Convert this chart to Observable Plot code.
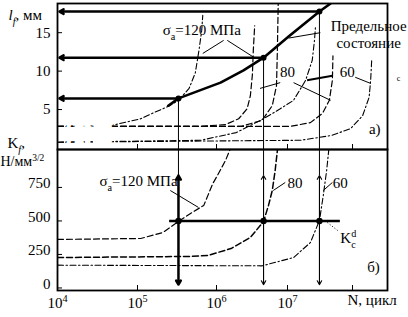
<!DOCTYPE html>
<html>
<head>
<meta charset="utf-8">
<script src="https://cdn.jsdelivr.net/npm/d3@7"></script>
<script src="https://cdn.jsdelivr.net/npm/@observablehq/plot@0.6"></script>
<style>
html,body{margin:0;padding:0;background:#fff;}
#chart{position:relative;width:408px;height:317px;overflow:hidden;background:#fff;}
#chart svg{position:absolute;left:0;overflow:visible;background:transparent;}
#chart svg, #chart svg text, #chart svg tspan{font-family:"Liberation Serif","Times New Roman",serif !important;}
</style>
</head>
<body>
<div id="chart"></div>
<script>
// ---------------- data ----------------
const xTicks = [1e4, 1e5, 1e6, 1e7, 1e8];
const xTickLabels = ["10^{4}", "10^{5}", "10^{6}", "10^{7}", ""];
const lTicks = [5, 10, 15];
const lTickLabels = ["5", "10", "15"];
const kTicks = [0, 250, 500, 750];
const kTickLabels = ["0", "250", "500", "750"];

const stress = ["120", "80", "60"];          // σa, МПа
const failN = [3.3e5, 4.6e6, 3.1e7];          // N at limit state
const failL = [6.45, 11.75, 17.75];           // l_f at limit state, мм
const Kcd = 500;                              // K_c^d
const KcdN = [2.55e5, 6.5e7];                 // extent of K_c^d line

// limit state line (top panel)
const limitN = [2.45e5, 3.3e5, 1.14e6, 2.4e6, 4.6e6, 1.04e7, 3.1e7, 4.6e7];
const limitL = [5.5, 6.45, 8.5, 10.1, 11.75, 14.5, 17.75, 18.8];

// crack growth curves l(N), top panel
const tA_N = [1e4, 4.6e4, 1.1e5, 1.74e5, 2.45e5, 3.3e5, 4.5e5, 5.4e5, 6.0e5, 6.5e5, 6.7e5];
const tA_L = [2.8, 2.9, 3.8, 4.75, 5.4, 6.2, 7.75, 9.8, 12.7, 15.3, 17.25];
const tB_N = [1e4, 6.3e5, 1.34e6, 2.05e6, 2.7e6, 3.0e6, 3.2e6, 3.3e6, 3.45e6];
const tB_L = [2.8, 2.8, 3.05, 3.8, 5.1, 6.8, 9.5, 12.7, 15.9];
const tC_N = [1e4, 6.3e5, 1.9e6, 4.6e6, 7.9e6, 1.24e7, 1.9e7, 2.4e7, 2.6e7, 2.7e7];
const tC_L = [0.75, 1.0, 2.0, 3.8, 5.1, 6.2, 8.8, 11.4, 14.0, 15.9];
const tD_N = [1e4, 2.2e6, 4.4e6, 6.1e6, 7.0e6, 7.2e6, 7.4e6];
const tD_L = [2.8, 2.8, 3.6, 5.5, 8.1, 12.7, 18.8];
const tE_N = [1e4, 1.1e7, 2.25e7, 3.45e7, 4.4e7, 4.9e7, 5.0e7];
const tE_L = [2.8, 2.8, 3.3, 4.5, 6.2, 8.8, 12.0];
const tF_N = [1e4, 1.58e7, 4.6e7, 9.3e7, 1.43e8, 1.8e8, 1.9e8, 1.97e8];
const tF_L = [0.75, 1.0, 1.6, 2.5, 4.2, 6.6, 8.8, 11.4];

// K_f(N) curves, bottom panel
const bA_N = [1e4, 1.1e5, 2.1e5, 3.3e5, 4.7e5, 6.9e5, 9e5, 1.03e6, 1.34e6, 1.75e6];
const bA_K = [362, 369, 414, 496, 556, 616, 780, 839, 951, 1100];
const bB_N = [1e4, 4.7e5, 7.7e5, 1.6e6, 3.0e6, 4.6e6, 5.4e6, 6.1e6, 6.7e6, 7.2e6, 7.4e6];
const bB_K = [227, 235, 242, 294, 377, 496, 616, 727, 876, 1025, 1100];
const bC_N = [1e4, 4.4e6, 1.24e7, 2.25e7, 3.1e7, 3.55e7, 4.0e7, 4.3e7, 4.5e7];
const bC_K = [170, 165, 227, 339, 503, 690, 876, 1025, 1100];

// ---------------- helpers ----------------
const pts = (N, v) => N.map((n, i) => ({N: n, v: v[i]}));
const fail = stress.map((s, i) => ({s, N: failN[i], l: failL[i]}));
const DASH = "6,3";
const DASHDOT = "6,2.5,1.5,2.5";
const FONT = "Liberation Serif";
const xScale = {type: "log", domain: [1e4, 1e5, 1e6, 1e7, 3.45e8], range: [57, 137, 216, 287, 387]};
const link = (x1, y1, x2, y2, o = {}) => Plot.link([0], {x1: () => x1, y1: () => y1, x2: () => x2, y2: () => y2, strokeWidth: 1, ...o});
const label = (x, y, t, o = {}) => Plot.text([0], {x: () => x, y: () => y, text: () => t, fontSize: 15, fontFamily: FONT, ...o});

// ---------------- top panel ----------------
const topPlot = Plot.plot({
  width: 408, height: 150,
  marginTop: 3, marginBottom: 1, marginLeft: 57, marginRight: 21,
  style: {fontSize: "15px", overflow: "visible", background: "transparent", color: "black"},
  x: xScale,
  y: {domain: [-0.2, 18.8], range: [149, 3]},
  marks: [
    Plot.axisY(lTicks, {tickSize: -5, tickFormat: () => "", label: null}),
    Plot.text(lTicks, {y: d => d, text: (d, i) => lTickLabels[i], frameAnchor: "left", dx: -7, textAnchor: "end", fontSize: 15, fontFamily: FONT}),
    Plot.axisX(xTicks, {tickSize: -5, tickFormat: () => "", label: null}),
    Plot.line(pts(tA_N, tA_L), {x: "N", y: "v", strokeWidth: 1.1, strokeDasharray: DASHDOT, clip: true}),
    Plot.line(pts(tB_N, tB_L), {x: "N", y: "v", strokeWidth: 1.2, strokeDasharray: DASH, clip: true}),
    Plot.line(pts(tC_N, tC_L), {x: "N", y: "v", strokeWidth: 1.1, strokeDasharray: DASHDOT, clip: true}),
    Plot.line(pts(tD_N, tD_L), {x: "N", y: "v", strokeWidth: 1.2, strokeDasharray: DASH, clip: true}),
    Plot.line(pts(tE_N, tE_L), {x: "N", y: "v", strokeWidth: 1.2, strokeDasharray: DASH, clip: true}),
    Plot.line(pts(tF_N, tF_L), {x: "N", y: "v", strokeWidth: 1.1, strokeDasharray: DASHDOT, clip: true}),
    Plot.line(pts(limitN, limitL), {x: "N", y: "v", strokeWidth: 2.6, clip: true}),
    Plot.ruleX(fail, {x: "N", y1: "l", y2: () => -0.2, strokeWidth: 1}),
    Plot.arrow(fail, {x1: "N", y1: "l", x2: () => 1.06e4, y2: "l", strokeWidth: 2.5, headLength: 2.8}),
    Plot.dot(fail, {x: "N", y: "l", r: 3, fill: "black"}),
    // annotations
    label(6.5e5, 15.3, "σ_{a}=120 МПа"),
    link(1.26e6, 14.0, 6.7e5, 12.3),
    link(1.42e6, 14.0, 3.55e6, 11.65),
    label(1.0e7, 9.8, "80"),
    link(7.9e6, 8.5, 4.1e6, 7.75),
    link(1.24e7, 8.5, 4.6e7, 6.2),
    label(8.3e7, 9.8, "60"),
    link(2.0e7, 8.8, 4.9e7, 9.4, {strokeWidth: 2}),
    link(1.1e8, 9.2, 1.9e8, 8.4),
    label(1.77e8, 15.9, "Предельное", {fontSize: 15}),
    label(1.77e8, 13.6, "состояние", {fontSize: 15}),
    link(3.2e7, 15.0, 1.04e7, 14.3),
    label(2.2e8, 2.5, "а)"),
    label(5.1e8, 9.0, "с", {fontSize: 8}),
    label(1.3e4, 2.79, "*l*_{o}=3 мм", {textAnchor: "start", fontSize: 14, stroke: "white", strokeWidth: 3, paintOrder: "stroke"}),
    label(1.3e4, 0.75, "*l*_{o}=1 мм", {textAnchor: "start", fontSize: 14, stroke: "white", strokeWidth: 3, paintOrder: "stroke"}),
    Plot.text(["*l*_{*f*}, мм"], {text: d => d, frameAnchor: "top-left", dx: -49, dy: 6, textAnchor: "start", fontSize: 15, fontFamily: FONT}),
    Plot.frame({strokeWidth: 1.8})
  ]
});

// ---------------- bottom panel ----------------
const botPlot = Plot.plot({
  width: 408, height: 168,
  marginTop: 0, marginBottom: 27, marginLeft: 57, marginRight: 21,
  style: {fontSize: "15px", overflow: "visible", background: "transparent", color: "black"},
  x: xScale,
  y: {domain: [-19, 1033], range: [141, 0]},
  marks: [
    Plot.axisY(kTicks, {tickSize: -5, tickFormat: () => "", label: null}),
    Plot.text(kTicks, {y: d => d, text: (d, i) => kTickLabels[i], frameAnchor: "left", dx: -7, dy: -4, textAnchor: "end", fontSize: 15, fontFamily: FONT}),
    Plot.axisX(xTicks, {tickSize: -5, tickPadding: 12, tickFormat: d => xTickLabels[xTicks.indexOf(d)], label: null, fontSize: 15, fontFamily: FONT}),
    Plot.line(pts(bA_N, bA_K), {x: "N", y: "v", strokeWidth: 1.2, strokeDasharray: DASH, clip: true}),
    Plot.line(pts(bB_N, bB_K), {x: "N", y: "v", strokeWidth: 1.5, strokeDasharray: DASH, clip: true}),
    Plot.line(pts(bC_N, bC_K), {x: "N", y: "v", strokeWidth: 1.1, strokeDasharray: DASHDOT, clip: true}),
    Plot.ruleY([Kcd], {x1: () => KcdN[0], x2: () => KcdN[1], y: d => d, strokeWidth: 2.6}),
    Plot.ruleX(fail, {x: "N", y1: () => 839, y2: () => 1033, strokeWidth: 1}),
    Plot.arrow(fail, {filter: (d, i) => i === 0, x1: "N", y1: () => Kcd, x2: "N", y2: () => 839, strokeWidth: 2.5, headLength: 2.8}),
    Plot.arrow(fail, {filter: (d, i) => i === 0, x1: "N", y1: () => Kcd, x2: "N", y2: () => 25, strokeWidth: 2.5, headLength: 2.8}),
    Plot.arrow(fail, {filter: (d, i) => i > 0, x1: "N", y1: () => Kcd, x2: "N", y2: () => 839, strokeWidth: 1.1, headLength: 6}),
    Plot.arrow(fail, {filter: (d, i) => i > 0, x1: "N", y1: () => Kcd, x2: "N", y2: () => 25, strokeWidth: 1.1, headLength: 6}),
    Plot.dot(fail, {x: "N", y: () => Kcd, r: 3.2, fill: "black"}),
    // annotations
    label(1.03e5, 794, "σ_{a}=120 МПа"),
    link(2.6e5, 727, 5.9e5, 601),
    label(1.3e7, 785, "80"),
    link(6.3e6, 727, 9.3e6, 787),
    label(6.5e7, 785, "60"),
    link(3.55e7, 727, 4.9e7, 787),
    label(6.5e7, 369, "K^{d}_{c}", {textAnchor: "start"}),
    link(4.1e7, 488, 5.9e7, 429, {strokeDasharray: "1,2"}),
    label(2.1e8, 152, "б)"),
    Plot.text(["N, цикл"], {text: d => d, x: () => 2.0e8, frameAnchor: "bottom", dy: 14, fontSize: 15, fontFamily: FONT}),
    Plot.text(["K_{*f*},"], {text: d => d, frameAnchor: "top-left", dx: -50, dy: -12, textAnchor: "start", fontSize: 15, fontFamily: FONT}),
    Plot.text(["Н/мм^{3/2}"], {text: d => d, frameAnchor: "top-left", dx: -57, dy: 7, textAnchor: "start", fontSize: 14, fontFamily: FONT}),
    Plot.frame({strokeWidth: 1.8})
  ]
});

const chart = document.getElementById("chart");
topPlot.style.top = "0px";
botPlot.style.top = "149px";
chart.appendChild(topPlot);
chart.appendChild(botPlot);

// rich text: _{sub}, ^{sup}, *italic* (also _{*x*} for italic subscripts)
function richText(svg) {
  const NS = "http://www.w3.org/2000/svg";
  svg.querySelectorAll("text").forEach(el => {
    if (el.childElementCount) return;
    const s = el.textContent;
    if (!/[_^]\{|\*/.test(s)) return;
    const fs = parseFloat(getComputedStyle(el).fontSize) || 15;
    el.textContent = "";
    const re = /([_^])\{([^}]*)\}|\*([^*]+)\*|([^_^*]+)/g;
    let m, cur = 0, prevSup = null;
    while ((m = re.exec(s))) {
      const t = document.createElementNS(NS, "tspan");
      let want = 0;
      if (m[1]) {
        want = m[1] === "_" ? 0.3 * fs : -0.42 * fs;
        t.setAttribute("font-size", (0.68 * fs) + "px");
        let c = m[2];
        if (/^\*.*\*$/.test(c)) { c = c.slice(1, -1); t.setAttribute("font-style", "italic"); }
        t.textContent = c;
      } else if (m[3]) {
        t.setAttribute("font-style", "italic");
        t.textContent = m[3];
      } else {
        t.textContent = m[4];
      }
      if (want !== cur) t.setAttribute("dy", (want - cur) + "px");
      cur = want;
      el.appendChild(t);
      if (m[1] === "_" && prevSup) t.setAttribute("dx", (-prevSup.getComputedTextLength()) + "px");
      prevSup = m[1] === "^" ? t : null;
    }
  });
}
richText(topPlot);
richText(botPlot);
</script>
</body>
</html>
